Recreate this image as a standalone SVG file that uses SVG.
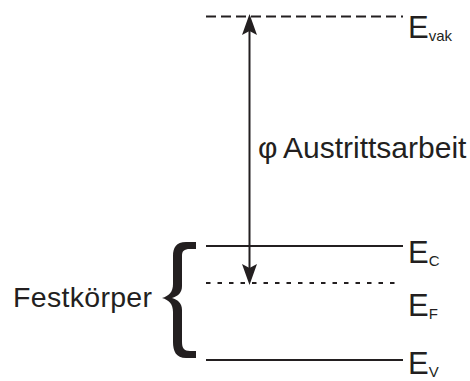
<svg xmlns="http://www.w3.org/2000/svg" width="470" height="381" viewBox="0 0 470 381">
  <style>
    .lbl { font-family: "Liberation Sans", Arial, sans-serif; fill: #231f20; }
    .lvl { stroke: #231f20; stroke-width: 2; fill: none; }
    .sub { font-size: 15px; }
  </style>
  <rect width="470" height="381" fill="#ffffff"/>

  <!-- energy levels -->
  <g id="level-vak">
    <line class="lvl" x1="206" y1="16.5" x2="403" y2="16.5" stroke-dasharray="10 5"/>
    <text class="lbl" x="408" y="38" font-size="31">E<tspan class="sub" dy="3">vak</tspan></text>
  </g>
  <g id="level-c">
    <line class="lvl" x1="206" y1="246" x2="403" y2="246"/>
    <text class="lbl" x="408" y="263" font-size="31">E<tspan class="sub" dy="3">C</tspan></text>
  </g>
  <g id="level-f">
    <line class="lvl" x1="206" y1="283" x2="400" y2="283" stroke-dasharray="4.5 7"/>
    <text class="lbl" x="408" y="316" font-size="31">E<tspan class="sub" dy="3">F</tspan></text>
  </g>
  <g id="level-v">
    <line class="lvl" x1="206" y1="360" x2="403" y2="360"/>
    <text class="lbl" x="408" y="374" font-size="31">E<tspan class="sub" dy="3">V</tspan></text>
  </g>

  <!-- solid-state bracket -->
  <g id="festkoerper">
    <text class="lbl" x="13" y="307" font-size="28.5" textLength="139" lengthAdjust="spacing">Festkörper</text>
    <path fill="#231f20" d="M196,242 L186,242 C176,242 173,248 173,256 L173,284 C173,292 169,296 162,298 C169,300 173,304 173,312 L173,342 C173,351 176,358 186,358 L196,358 L196,351 L190,351 C184,351 182,348 182,342 L182,310 C182,303 178,300 172,298 C178,296 182,293 182,286 L182,256 C182,251 184,249 190,249 L196,249 Z"/>
  </g>

  <!-- work function -->
  <g id="connectors">
    <line class="lvl" x1="249.5" y1="30" x2="249.5" y2="270"/>
    <polygon fill="#231f20" points="249.5,14 257,35 249.5,31 242,35"/>
    <polygon fill="#231f20" points="249.5,285 257,264 249.5,268 242,264"/>
  </g>
  <g id="austrittsarbeit">
    <text class="lbl" x="258" y="158" font-size="30">φ<tspan x="283">Austrittsarbeit</tspan></text>
  </g>
</svg>
